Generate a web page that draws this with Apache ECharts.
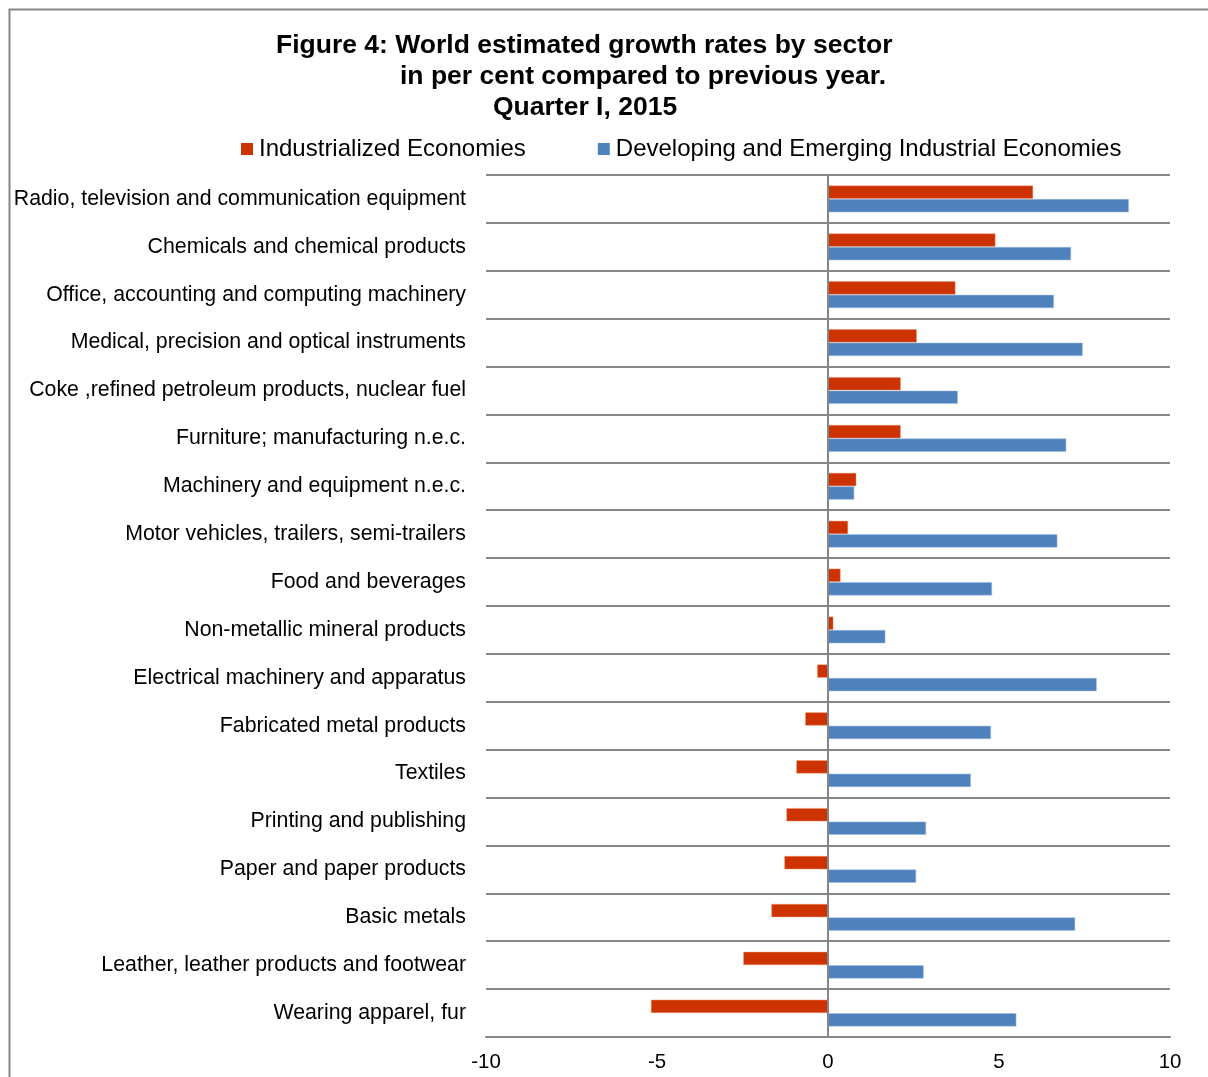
<!DOCTYPE html>
<html>
<head>
<meta charset="utf-8">
<title>World estimated growth rates by sector</title>
<script src="https://cdn.jsdelivr.net/npm/echarts@6/dist/echarts.min.js"></script>
<style>
  html, body { margin: 0; padding: 0; background: #ffffff; }
  #chart { width: 1208px; height: 1077px; }
</style>
</head>
<body>
<div id="chart"></div>
<script>
// Sectors, listed top to bottom
const sectors = [
  'Radio, television and communication equipment',
  'Chemicals and chemical products',
  'Office, accounting and computing machinery',
  'Medical, precision and optical instruments',
  'Coke ,refined petroleum products, nuclear fuel',
  'Furniture; manufacturing n.e.c.',
  'Machinery and equipment n.e.c.',
  'Motor vehicles, trailers, semi-trailers',
  'Food and beverages',
  'Non-metallic mineral products',
  'Electrical machinery and apparatus',
  'Fabricated metal products',
  'Textiles',
  'Printing and publishing',
  'Paper and paper products',
  'Basic metals',
  'Leather, leather products and footwear',
  'Wearing apparel, fur'
];

// Growth rates in per cent compared to previous year, Quarter I 2015
const industrialized = [6.0, 4.9, 3.73, 2.6, 2.13, 2.13, 0.83, 0.59, 0.37, 0.16,
  -0.32, -0.67, -0.93, -1.22, -1.28, -1.66, -2.48, -5.18];
const developing = [8.8, 7.11, 6.61, 7.45, 3.8, 6.97, 0.77, 6.71, 4.8, 1.68,
  7.86, 4.77, 4.18, 2.87, 2.58, 7.23, 2.8, 5.51];

const seriesNames = ['Industrialized Economies', 'Developing and Emerging Industrial Economies'];
const titleLines = [
  'Figure 4: World estimated growth rates by sector',
  'in per cent compared to previous year.',
  'Quarter I, 2015'
];

const FONT = '"Liberation Sans", Arial, sans-serif';
const GRID_GRAY = '#868686';
const RED = '#CC3300';
const BLUE = '#4F81BD';

const chart = echarts.init(document.getElementById('chart'), null, { renderer: 'canvas' });

const titleLeft = [276, 400, 493];
const titleTop = [32, 63, 94];

chart.setOption({
  animation: false,
  backgroundColor: '#ffffff',
  title: titleLines.map((t, i) => ({
    text: t,
    left: titleLeft[i],
    top: titleTop[i],
    padding: 0,
    textStyle: { fontFamily: FONT, fontSize: 26.5, fontWeight: 'bold', color: '#000000' }
  })),
  legend: {
    left: 241,
    top: 137,
    padding: 0,
    itemWidth: 12,
    itemHeight: 12,
    itemGap: 72,
    icon: 'rect',
    itemStyle: { borderWidth: 0 },
    textStyle: { fontFamily: FONT, fontSize: 24, color: '#000000', padding: [0, 0, 0, 1] },
    data: seriesNames
  },
  graphic: [{
    type: 'polyline',
    silent: true,
    shape: { points: [[9.5, 1077], [9.5, 9.5], [1208, 9.5]] },
    style: { stroke: GRID_GRAY, lineWidth: 2, fill: null }
  }],
  grid: { left: 486, right: 38, top: 175, bottom: 40, containLabel: false },
  xAxis: {
    type: 'value',
    min: -10,
    max: 10,
    interval: 5,
    axisLine: { show: true, lineStyle: { color: GRID_GRAY, width: 2 } },
    axisTick: { show: false },
    splitLine: { show: false },
    axisLabel: { fontFamily: FONT, fontSize: 20.4, color: '#000000', margin: 15 }
  },
  yAxis: {
    type: 'category',
    data: sectors,
    inverse: true,
    axisLine: { show: false },
    axisTick: { show: false },
    splitLine: { show: true, lineStyle: { color: GRID_GRAY, width: 2 } },
    axisLabel: { fontFamily: FONT, fontSize: 21.3, color: '#000000', margin: 20 }
  },
  series: [
    {
      name: seriesNames[0],
      type: 'bar',
      data: industrialized,
      barWidth: 13.5,
      barGap: '0%',
      itemStyle: { color: RED, borderColor: 'rgba(240,150,120,0.6)', borderWidth: 0.8 },
      markLine: {
        silent: true,
        symbol: 'none',
        label: { show: false },
        lineStyle: { color: GRID_GRAY, width: 2, type: 'solid' },
        data: [{ xAxis: 0 }]
      },
      z: 2
    },
    {
      name: seriesNames[1],
      type: 'bar',
      data: developing,
      barWidth: 13.5,
      barGap: '0%',
      itemStyle: { color: BLUE, borderColor: 'rgba(160,190,225,0.7)', borderWidth: 0.8 },
      z: 2
    }
  ]
});
</script>
</body>
</html>
